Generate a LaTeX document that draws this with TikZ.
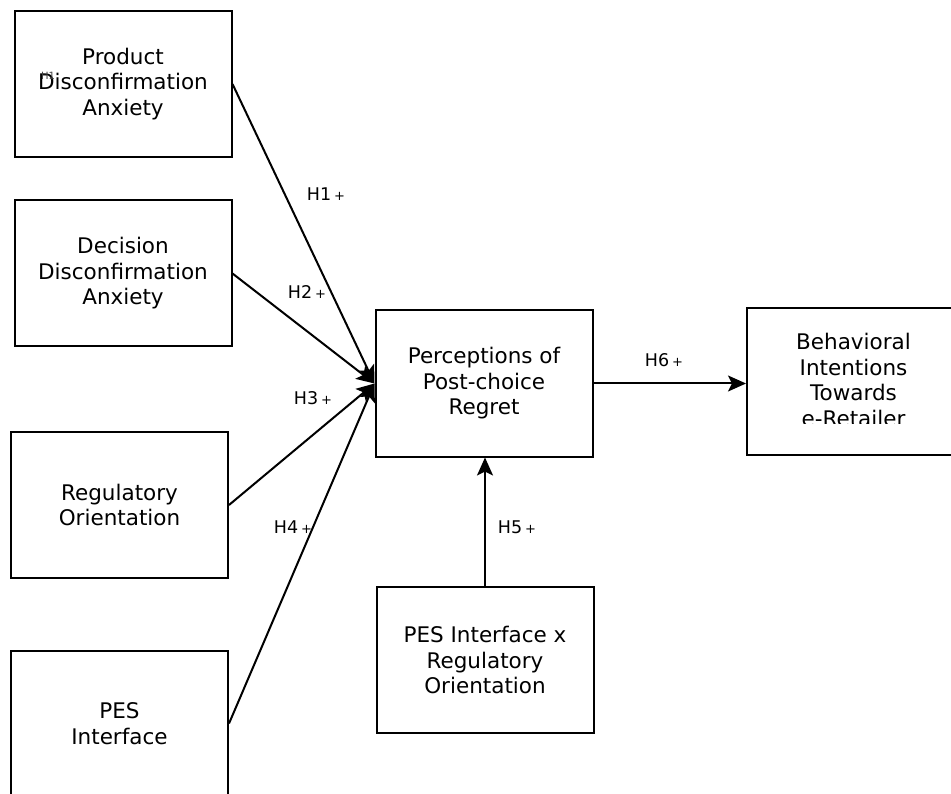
\documentclass[tikz,border=0pt]{standalone}
\usepackage{fontspec}
\setmainfont{DejaVu Sans}
\usetikzlibrary{arrows.meta}
\newcommand{\hlab}[1]{H#1\,{\fontsize{13}{13}\selectfont +}}

\begin{document}
\begin{tikzpicture}[x=1pt,y=-1pt,
  box/.style={draw, line width=2pt, minimum width=217pt, minimum height=146pt,
    align=center, inner sep=0pt, font=\fontsize{21.5}{25.5}\selectfont},
  link/.style={line width=2pt, -{Stealth[length=18pt,width=16pt,inset=4pt]}},
  hyp/.style={font=\fontsize{17.5}{17.5}\selectfont}]
\useasboundingbox (0,0) rectangle (951,794);
\clip (0,0) rectangle (951,794);

% Antecedents
\node[box] (prod) at (123,84) {Product\\Disconfirmation\\Anxiety};
\node[black!75, font=\fontsize{10}{10}\selectfont] (ghost) at (48,76) {H1};
\node[box] (dec) at (123,273.5) {Decision\\Disconfirmation\\Anxiety};
\node[box] (reg) at (119.5,505) {Regulatory\\Orientation};
\node[box] (pes) at (119.5,723.5) {PES\\Interface};

% Mediator, moderator and outcome
\node[box] (regret) at (484,383.5) {Perceptions of\\Post-choice\\Regret};
\node[box] (inter) at (485,660) {PES Interface x\\Regulatory\\Orientation};
\node[box, minimum width=213pt] (behav) at (853.5,381.5) {};
\begin{scope}
\clip (740,300) rectangle (960,423);
\node[align=center, font=\fontsize{21.5}{25.5}\selectfont] (behavtxt) at ([yshift=1.5pt]behav.center)
  {Behavioral\\Intentions\\Towards\\e-Retailer};
\end{scope}

% Paths
\draw[link] (prod.east) -- (regret.west);
\draw[link] (dec.east) -- (regret.west);
\draw[link] (reg.east) -- (regret.west);
\draw[link] (pes.east) -- (regret.west);
\draw[link] (inter.north) -- (inter.north |- regret.south);
\draw[link] (regret.east) -- (regret.east -| behav.west);

% Hypotheses
\node[hyp] (h1) at (326,194) {\hlab{1}};
\node[hyp] (h2) at (307,292) {\hlab{2}};
\node[hyp] (h3) at (313,398) {\hlab{3}};
\node[hyp] (h4) at (293,527) {\hlab{4}};
\node[hyp] (h5) at (517,527) {\hlab{5}};
\node[hyp] (h6) at (664,360) {\hlab{6}};
\end{tikzpicture}
\end{document}
